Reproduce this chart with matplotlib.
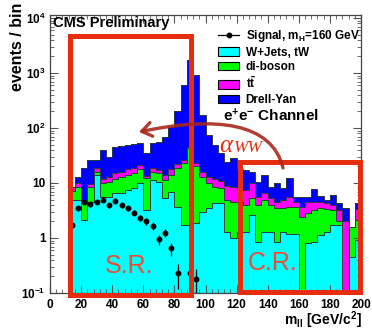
# Dilepton invariant mass, ee channel, stacked backgrounds + H->WW signal

import numpy as np
import matplotlib.pyplot as plt
from matplotlib.patches import Patch, Rectangle, FancyArrowPatch
from matplotlib.lines import Line2D
from matplotlib.path import Path
from matplotlib.ticker import FixedLocator, FuncFormatter, MultipleLocator, LogLocator, NullFormatter

plt.rcParams['font.family'] = ['Liberation Sans', 'DejaVu Sans']
plt.rcParams['font.weight'] = 'bold'
plt.rcParams['mathtext.fontset'] = 'custom'
plt.rcParams['mathtext.rm'] = 'Liberation Sans:bold'
plt.rcParams['mathtext.it'] = 'Liberation Sans:italic:bold'
plt.rcParams['mathtext.bf'] = 'Liberation Sans:bold'


# ------ Données ------

# 4 GeV bins from 12 to 200 GeV
bin_edges = np.arange(12, 201, 4)

wjets = [5.0, 5.0, 2.1, 4.5, 14.0, 5.5, 5.5, 6.5, 6.5, 7.5, 8.0, 10.0, 3.2, 11.3,
         10.6, 5.3, 7.0, 3.7, 1.7, 1.7, 1.9, 3.0, 3.5, 4.3, 4.3, 1.3, 1.0, 1.3,
         1.3, 2.6, 0.86, 1.3, 1.3, 0.86, 1.3, 1.2, 1.2, 0.0, 0.82, 0.86, 1.13,
         1.3, 1.7, 1.7, 0.0, 0.46, 0.92]
diboson = [2.3, 3.6, 2.4, 4.1, 2.0, 4.5, 5.0, 5.5, 6.5, 6.5, 7.0, 8.0, 9.1, 4.7,
           4.4, 6.0, 7.0, 15.3, 21.3, 41.3, 18.1, 10.0, 6.5, 4.3, 3.8, 3.7, 3.5,
           3.2, 2.7, 2.7, 3.14, 3.6, 2.7, 2.64, 2.2, 2.5, 2.5, 2.4, 1.98, 2.34,
           2.37, 2.0, 1.5, 0.3, 0.0, 1.14, 1.18]
ttbar = [1.3, 1.4, 0.5, 0.9, 3.0, 2.0, 2.5, 3.0, 3.0, 4.0, 4.0, 3.0, 1.1, 2.7,
         2.0, 2.7, 4.0, 3.0, 3.0, 2.0, 3.0, 3.0, 3.0, 3.4, 2.9, 4.0, 4.1, 3.0,
         3.5, 4.7, 1.6, 1.6, 1.3, 1.1, 1.5, 1.8, 0.9, 1.3, 1.8, 1.4, 1.1, 1.0,
         0.8, 1.2, 2.0, 0.0, 1.2]
drell_yan = [0.0, 3.0, 13.5, 16.5, 7.0, 28, 17, 31, 31, 31, 33, 33, 21.6, 34.3,
             38, 54, 86, 182, 574, 1685, 892, 156, 62, 37, 24, 15, 19.4, 10.5,
             9.5, 6.0, 5.0, 7.5, 3.3, 5.4, 3.0, 6.9, 0.9, 1.8, 0.9, 3.1, 1.2, 0.6,
             2.0, 1.1, 1.5, 0.0, 1.0]

sig_mass = [14, 18, 22, 26, 30, 34, 38, 42, 46, 50, 54, 58, 62, 66, 70, 74, 78,
            82, 90, 94]
sig_val = [1.7, 3.5, 4.6, 4.1, 4.5, 5.0, 3.9, 4.8, 3.9, 3.5, 2.9, 2.3, 2.0, 1.67,
           0.95, 1.25, 0.65, 0.23, 0.23, 0.18]
sig_err = [0.25, 0.35, 0.4, 0.4, 0.4, 0.45, 0.4, 0.45, 0.4, 0.35, 0.33, 0.3, 0.28,
           0.26, 0.2, 0.22, 0.17, 0.11, 0.11, 0.09]

samples = [("W+Jets, tW", wjets, "#00ffff"),
           ("di-boson", diboson, "#00ff00"),
           (r"$\mathregular{t\bar{t}}$", ttbar, "#ff00ff"),
           ("Drell-Yan", drell_yan, "#0000ff")]

RED = "#e62e0e"
EDGE = "#2a3a3a"


# ------ Figure ------

fig = plt.figure(figsize=(3.72, 3.31), dpi=100)
ax = fig.add_axes([50/372, 38/331, 311/372, 278/331])

# stack
floor = 1e-3
base = np.zeros(len(bin_edges) - 1)
for label, vals, col in samples:
    top = base + np.array(vals)
    ax.stairs(np.maximum(top, floor), bin_edges, baseline=np.maximum(base, floor),
              fill=True, color=col, lw=0)
    base = top

# outlines of each layer
base = np.zeros(len(bin_edges) - 1)
for label, vals, col in samples:
    base = base + np.array(vals)
    ax.stairs(np.maximum(base, floor), bin_edges, baseline=None, color=EDGE, lw=0.7)

# signal
ax.errorbar(sig_mass, sig_val, yerr=sig_err, fmt='o', color='k', ms=3.2,
            elinewidth=0.9, capsize=0, zorder=4)

ax.set_xlim(0, 200)
ax.set_yscale('log')
ax.set_ylim(0.1, 10**4.0545)

ax.xaxis.set_major_locator(MultipleLocator(20))
ax.xaxis.set_minor_locator(MultipleLocator(4))
ax.yaxis.set_major_locator(FixedLocator([0.1, 1, 10, 100, 1000, 10000]))
ax.yaxis.set_minor_locator(LogLocator(subs=np.arange(2, 10)))
ax.yaxis.set_minor_formatter(NullFormatter())
ylabels = {0.1: r"$10^{-1}$", 1: "1", 10: "10", 100: r"$10^{2}$",
           1000: r"$10^{3}$", 10000: r"$10^{4}$"}
ax.yaxis.set_major_formatter(FuncFormatter(lambda v, p: ylabels.get(round(v, 1), "")))

ax.tick_params(which='both', direction='in', top=True, right=True,
               color='#555555', labelsize=8.5)
ax.tick_params(which='major', length=6, width=0.8)
ax.tick_params(which='minor', length=3, width=0.6)
ax.tick_params(axis='x', pad=4)
ax.tick_params(axis='y', pad=3)
for s in ax.spines.values():
    s.set_color('#444444')
    s.set_linewidth(0.9)

fig.text(18/372, 1 - 3/331, "events / bin", rotation=90, ha='center', va='top',
         fontsize=11.5)
fig.text(362/372, 1 - 325/331, r"m$_{\mathregular{ll}}$ [GeV/c$^{2}$]", ha='right',
         va='baseline', fontsize=10)

# legend
leg_handles = [Line2D([], [], color='k', marker='o', ms=3.2, lw=0.9)]
leg_labels = [r"Signal, m$_{\mathregular{H}}$=160 GeV"]
for label, vals, col in samples:
    leg_handles.append(Patch(facecolor=col, edgecolor='k', lw=0.8))
    leg_labels.append(label)
leg = ax.legend(leg_handles, leg_labels, loc='upper left',
                bbox_to_anchor=(218/372, 1 - 28/331), bbox_transform=fig.transFigure,
                frameon=False, fontsize=8.5, handlelength=1.8, handleheight=0.75,
                handletextpad=0.55, labelspacing=0.22, borderpad=0, borderaxespad=0)

ax.text(0.01, 0.995, "CMS Preliminary", transform=ax.transAxes, ha='left',
        va='top', fontsize=10.5)
fig.text(223/372, 1 - 121/331, r"e$^{+}$e$^{-}$ Channel", ha='left',
         va='baseline', fontsize=11)

# ------ Annotations (pixel coordinates) ------

ov = fig.add_axes([0, 0, 1, 1], zorder=5)
ov.set_xlim(0, 372)
ov.set_ylim(331, 0)
ov.axis('off')

ov.add_patch(Rectangle((69.5, 35.5), 121, 259, fill=False, ec=RED, lw=3.6))
ov.add_patch(Rectangle((239.5, 162), 120.5, 129.5, fill=False, ec=RED, lw=3.6))
ov.text(129, 273, "S.R.", color="#f24a30", fontsize=18, fontweight='normal',
        ha='center', va='baseline')
ov.text(273, 270, "C.R.", color="#f24a30", fontsize=18, fontweight='normal',
        ha='center', va='baseline')

# curved arrow
verts = [(283, 168), (272, 122), (215, 116), (139, 132)]
arc = Path(verts, [Path.MOVETO, Path.CURVE4, Path.CURVE4, Path.CURVE4])
ov.add_patch(FancyArrowPatch(path=arc, arrowstyle='->,head_length=7,head_width=5',
                             color="#a8281a", lw=2.4, alpha=0.9))

ov.text(219, 152, "α", color=RED, fontsize=18, family='Liberation Serif',
        style='italic', fontweight='normal', va='baseline')
ov.text(234, 152, "WW", color=RED, fontsize=12.5, family='Liberation Serif',
        style='italic', fontweight='normal', va='baseline')

fig.savefig("out.png", dpi=100)
